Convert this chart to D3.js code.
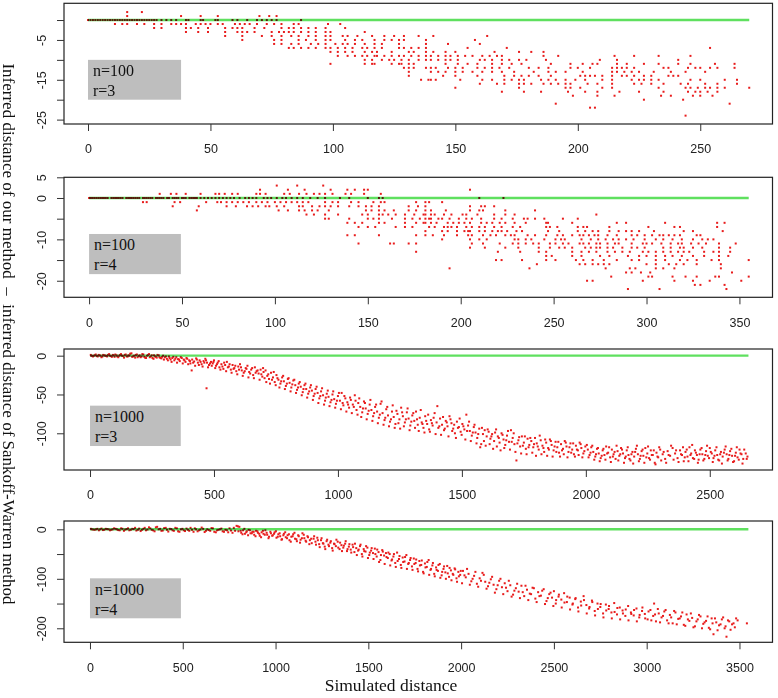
<!DOCTYPE html>
<html><head><meta charset="utf-8">
<script src="https://cdn.jsdelivr.net/npm/d3@7"></script>
<style>body{margin:0;background:#fff}svg{display:block}</style>
</head><body><svg id="chart" width="778" height="698"></svg>
<script>
// ---------- DATA ----------
// Panel 1 (n=100, r=3): rows of [y difference, [simulated distances]]
const p1Rows = [
 [2,[16,22]],
 [1,[16,38,46,53,70,74,77]],
 [0,[0,1,2,3,4,5,6,7,8,9,10,11,12,13,14,15,16,17,18,19,20,21,22,23,24,25,26,27,28,30,32,34,36,40,41,46,47,52,53,59,61,65,69,71,73,75,77,87]],
 [-1,[11,14,16,20,23,27,30,34,36,38,40,44,46,48,50,53,55,60,62,64,66,69,73,76,79,84,86,98,103]],
 [-2,[27,30,40,42,45,49,56,59,61,63,68,72,79,82,84,87,90,93,97,105]],
 [-3,[40,45,49,56,61,63,65,68,75,78,80,82,84,87,90,93,97,99,113]],
 [-4,[56,63,71,75,79,83,86,90,93,97,99,104,106,110,116,121,125,129,135,141,163]],
 [-5,[63,76,79,86,89,93,97,99,105,109,112,117,121,124,127,129,138,158]],
 [-6,[76,79,83,86,91,94,97,101,104,106,109,113,117,120,127,138,147,160]],
 [-7,[82,84,87,90,93,97,99,102,105,108,112,114,117,120,127,129,132,135,138,155,171,254]],
 [-8,[99,102,105,108,113,116,118,124,131,133,138,141,146,150,166,176,181,186]],
 [-9,[102,106,109,112,114,117,118,121,124,127,129,132,135,138,140,143,146,148,151,154,157,161,164,167,169,186,192,215,223,233,246]],
 [-10,[113,116,120,123,125,128,131,135,138,140,143,146,148,151,160,162,165,169,172,176,179,187,209,216,241]],
 [-11,[99,113,116,117,124,127,128,131,133,146,151,155,159,165,169,173,177,189,197,202,206,208,216,220,227,233,241,246,256,264]],
 [-12,[129,131,133,138,140,142,147,150,153,159,162,165,168,172,180,184,188,197,200,205,214,216,218,220,223,235,237,245,248,250,254,257,264]],
 [-13,[131,140,143,146,150,153,157,161,165,169,174,182,188,191,195,202,214,216,219,222,225,231,238,244,252]],
 [-14,[131,145,150,159,170,174,177,180,184,189,201,203,205,207,210,214,218,220,223,227,230,237,239,241]],
 [-15,[136,139,140,142,152,161,165,170,173,176,178,185,188,191,195,199,203,210,214,222,225,227,230,233,246,250,260,265]],
 [-16,[160,167,170,176,178,181,186,189,192,195,197,204,208,214,223,226,230,235,242,245,252,257,265]],
 [-17,[150,176,195,197,201,210,214,233,244,246,249,252,254,257,260,270]],
 [-18,[169,178,185,196,203,208,217,225,235,245,248,250,253,257]],
 [-19,[198,208,215,234,238,247,250,255]],
 [-20,[227,243]],
 [-21,[191,262]],
 [-22,[205,207]],
 [-24,[244]]
];
// Panel 2 (n=100, r=4)
const p2Rows = [
 [3,[101,112,126]],
 [2,[92,107,116,130,139,143,148,150,205]],
 [1,[38,44,47,52,60,68,70,73,77,80,90,92,95,105,108,113,117,121,124,127,131,138,141,148,157]],
 [0,[0,1,2,3,4,5,6,7,8,9,10,12,13,14,15,16,17,18,20,21,22,23,24,25,26,27,29,30,31,32,33,34,36,37,38,39,40,42,43,45,46,47,48,50,51,52,54,55,56,57,58,60,62,64,66,68,70,72,74,76,78,81,84,86,88,90,94,96,98,101,104,106,109,112,115,119,123,127,135,140,150,156,158,210,223]],
 [-1,[29,31,46,49,63,69,71,74,77,80,83,86,90,93,96,100,103,106,109,112,115,118,127,131,134,141,145,153,157,159,176,181,183,190]],
 [-2,[45,59,74,79,85,88,91,95,97,101,105,113,115,120,124,127,130,134,140,145,149,152,156,172,177,181,205,211,213,218]],
 [-3,[58,102,107,113,116,120,123,129,149,152,156,159,164,172,176,181,184,192,205,210,212,224,240]],
 [-4,[117,121,127,134,147,150,156,158,161,165,170,175,180,181,184,186,191,195,201,203,209,218,224,229,273]],
 [-5,[127,129,140,150,153,156,163,170,174,178,181,183,184,188,190,194,199,203,206,211,218,222,228,234,236,240,245,255,263]],
 [-6,[139,143,147,156,159,170,176,180,181,184,187,193,196,199,202,205,211,214,217,221,224,229,235,246,247,260,284,289,310,338,342]],
 [-7,[145,150,154,165,170,174,183,186,191,193,195,198,203,206,210,213,218,222,228,232,246,248,252,263,266,268,280,301,315,318,338]],
 [-8,[181,190,193,198,202,204,205,210,213,217,220,222,225,230,233,247,253,263,267,271,274,280,285,289,292,296,304,320,325,341]],
 [-9,[139,143,156,176,181,185,191,198,204,206,212,216,219,224,227,229,236,240,246,252,255,260,264,266,269,272,274,279,284,292,295,299,303,307,309,312,315,318,327,329]],
 [-10,[190,205,210,214,229,231,235,238,245,251,254,256,265,270,274,278,282,285,289,293,299,305,309,314,319,325,330,333,336]],
 [-11,[145,162,164,172,176,206,212,221,228,231,235,239,242,248,251,255,258,264,266,269,273,275,279,283,285,292,298,300,303,308,313,317,319,324,328,332,339,348]],
 [-12,[205,213,224,231,242,248,253,256,260,267,270,273,275,279,282,287,292,295,299,309,313,318,320,325,330,339,345]],
 [-13,[176,220,232,242,246,260,265,269,273,279,283,287,291,298,301,305,309,313,317,320,323,331,336,339,345]],
 [-14,[246,249,260,265,275,280,290,296,300,305,310,314,319,325,331,339,344]],
 [-15,[219,222,233,246,251,262,266,271,277,284,292,296,305,310,318,322,327,335,339,355]],
 [-16,[241,264,267,271,274,277,280,300,305,312,316,320,327,340]],
 [-17,[194,237,278,291,294,305,309,315,340]],
 [-18,[289,292,297,302,346]],
 [-19,[281,301,303,314,321,327,337,339,355]],
 [-20,[268,271,298,315,325,334,351]],
 [-21,[326,329,342]],
 [-22,[290,307,343]]
];
// Panel 3 (n=1000, r=3): [simulated distance, difference]
const p3PointsA = [
 [5,0],[12,-1],[20,0.5],[28,-0.5],[35,1],[42,0],[50,-1],[58,0.5],[65,-0.5],[72,1],[80,0],[88,-1.5],[95,0.5],[102,1.5],[110,-1],[118,0],[125,2],[132,-0.5],[140,1],[148,-1],[155,0.5],[162,2.5],[170,-1.5],[178,0],[185,1],[192,-2],[200,0.5],[208,-1],[215,1.5],[222,-2.5],[230,0],[238,2],[245,-1],[252,-3],[258,0.5],[265,-1.5],[272,1],[280,-2],[288,-3.5],[295,0],
 [302,-2],[310,-4],[318,-1],[325,-5],[332,-3],[340,-6],[348,-2],[355,-4.5],[362,-7],[370,-3],[378,-5],[385,-8],[392,-4],[400,-6],[405,-10],[410,-19],[412,-5],[420,-7.5],[428,-3.5],[435,-9],[442,-6],[450,-11],[458,-7],[465,-4],[470,-42],[472,-9],[480,-12],[488,-8],[495,-10],[500,-6],
 [508,-13],[515,-9],[522,-15],[530,-11],[538,-17],[545,-12],[552,-8],[560,-14],[568,-18],[575,-12],[582,-16],[590,-20],[598,-14],[605,-11],[612,-19],[620,-22],[628,-16],[635,-13],[642,-21],[650,-18],[658,-25],[665,-15],[672,-20],[680,-23],[688,-18],[695,-27],[700,-21],
 [708,-19],[715,-26],[722,-30],[730,-22],[738,-28],[745,-34],[752,-25],[760,-31],[768,-36],[775,-28],[782,-33],[790,-39],[798,-30],[805,-35],[812,-41],[820,-32],[828,-38],[835,-44],[842,-36],[850,-40],[858,-47],[865,-38],[872,-43],[880,-49],[888,-41],[895,-45],[902,-52],[910,-43],[918,-48],[925,-55],[932,-46],[940,-51],[948,-58],[955,-49],[962,-53],[970,-60],[978,-50],[985,-56],[992,-62],[1000,-52],
 [1008,-58],[1015,-48],[1022,-64],[1030,-55],[1038,-60],[1045,-67],[1052,-57],[1060,-63],[1068,-51],[1075,-70],[1082,-61],[1090,-66],[1098,-73],[1105,-59],[1112,-68],[1120,-75],[1128,-63],[1135,-70],[1142,-78],[1150,-66],[1158,-72],[1165,-80],[1172,-62],[1180,-74],[1188,-83],[1195,-69],[1202,-77],[1210,-85],[1218,-72],[1225,-79],[1232,-88],[1240,-75],[1248,-82],[1255,-67],[1262,-78],[1270,-86],[1278,-73],[1285,-81],[1292,-90],[1300,-77],
 [1308,-84],[1315,-72],[1322,-89],[1330,-80],[1338,-86],[1345,-93],[1352,-78],[1360,-88],[1368,-95],[1375,-83],[1382,-90],[1390,-74],[1398,-86],[1405,-93],[1412,-81],[1420,-89],[1428,-96],[1435,-84],[1442,-91],[1450,-78],[1458,-87],[1465,-94],[1472,-100],[1480,-85],[1488,-92],[1495,-98],[1502,-88],[1510,-95],[1518,-76],[1525,-90],[1532,-97],[1540,-103],[1548,-92],[1555,-99],[1562,-106],[1570,-94],[1578,-114],[1585,-101],[1592,-96],[1600,-104],
 [1608,-98],[1615,-107],[1622,-101],[1630,-110],[1638,-95],[1645,-104],[1652,-112],[1660,-100],[1668,-108],[1675,-115],[1682,-103],[1690,-111],[1698,-96],[1705,-106],[1712,-114],[1720,-135],[1728,-109],[1735,-117],[1742,-104],[1750,-112],[1758,-120],[1765,-107],[1772,-115],[1780,-110],[1788,-118],[1795,-106],[1802,-113],[1810,-121],[1818,-109],[1825,-116],[1832,-124],[1840,-112],[1848,-119],[1855,-108],[1862,-115],[1870,-122],[1878,-111],[1885,-118],[1892,-125],[1900,-114],[1908,-120],[1915,-110],[1922,-117],[1930,-124],[1938,-113],[1945,-121],[1952,-127],[1960,-116],[1968,-122],[1975,-112],[1982,-119],[1990,-126],[1998,-117],
 [2008,-121],[2015,-128],[2022,-118],[2030,-124],[2038,-130],[2045,-120],[2052,-126],[2060,-132],[2068,-122],[2075,-128],[2082,-117],[2090,-125],[2098,-131],[2105,-121],[2112,-127],[2120,-133],[2128,-123],[2135,-129],[2142,-119],[2150,-126],[2158,-132],[2165,-122],[2172,-128],[2180,-135],[2188,-124],[2195,-130],[2202,-120],[2210,-127],[2218,-133],[2225,-123],[2232,-129],[2240,-119],[2248,-126],[2255,-132],[2262,-122],[2270,-128],[2278,-138],[2285,-125],[2292,-131],[2300,-121],[2310,-127],[2320,-133],[2330,-123],[2340,-129],[2350,-119],[2360,-126],[2370,-132],[2380,-122],[2388,-128],[2395,-136],[2402,-124],[2410,-130],[2418,-118],[2425,-126],[2432,-132],[2440,-122],[2448,-128],[2455,-134],[2462,-121],[2470,-127],[2478,-133],[2485,-123],[2492,-129],[2500,-119],[2508,-126],[2515,-132],[2522,-122],[2530,-128],[2538,-135],[2545,-124],[2552,-130],[2560,-121],[2568,-127],[2575,-133],[2582,-123],[2590,-129],[2598,-136],[2605,-125],[2612,-131],[2620,-121],[2628,-127],[2635,-133],[2645,-126],[2652,-130]
];
const p3PointsB = [
 [3,1],[9,-0.5],[15,0],[23,1.5],[31,-1],[38,0.5],[46,-2],[53,1],[61,0],[69,-1],[77,2],[84,-0.5],[92,1],[99,-1.5],[107,0.5],[114,-2],[121,1],[129,0],[137,-2.5],[144,1.5],[152,-1],[159,0],[167,3],[174,-1],[182,-2.5],[189,1.5],[197,-0.5],[204,-2],[211,2],[219,-1.5],[226,-3],[234,1],[241,-2],[249,0.5],[256,-4],[263,-1],[269,-2.5],[277,0.5],[284,-3],[291,-1.5],[298,-5],
 [306,-1],[314,-6],[321,-3],[329,-8],[336,-1.5],[344,-4],[351,-9],[359,-5],[366,-2],[374,-10],[381,-6],[389,-3],[396,-11],[403,-7],[416,-9],[424,-13],[431,-5],[439,-12],[446,-8],[454,-14],[461,-9],[468,-6],[476,-15],[484,-10],[491,-13],[498,-8],
 [505,-16],[512,-11],[519,-7],[526,-18],[534,-14],[541,-9],[549,-20],[556,-15],[563,-11],[571,-22],[579,-17],[586,-13],[594,-24],[601,-18],[609,-15],[616,-26],[624,-20],[631,-17],[639,-28],[646,-23],[654,-16],[661,-29],[668,-22],[676,-19],[684,-31],[691,-24],[698,-16],
 [704,-29],[711,-34],[719,-24],[726,-36],[734,-31],[741,-21],[749,-38],[756,-29],[764,-41],[771,-33],[779,-26],[786,-43],[794,-36],[801,-29],[809,-46],[816,-37],[824,-31],[831,-48],[839,-41],[846,-34],[854,-51],[861,-43],[869,-36],[876,-54],[884,-46],[891,-38],[899,-57],[906,-49],[914,-40],[921,-61],[929,-52],[936,-42],[944,-63],[951,-54],[959,-45],[966,-65],[974,-57],[981,-46],[989,-67],[996,-58],
 [1004,-48],[1012,-69],[1019,-61],[1026,-52],[1034,-72],[1041,-63],[1049,-54],[1056,-74],[1064,-66],[1071,-58],[1079,-76],[1086,-55],[1094,-79],[1101,-68],[1109,-61],[1116,-82],[1124,-71],[1131,-57],[1139,-84],[1146,-74],[1154,-63],[1161,-87],[1169,-76],[1176,-59],[1184,-89],[1191,-80],[1199,-66],[1206,-91],[1214,-82],[1221,-64],[1229,-93],[1236,-71],[1244,-87],[1251,-94],[1259,-73],[1266,-91],[1274,-82],[1281,-68],[1289,-96],[1296,-85],
 [1304,-74],[1311,-93],[1319,-82],[1326,-97],[1334,-70],[1341,-88],[1349,-99],[1356,-84],[1364,-76],[1371,-98],[1379,-87],[1386,-80],[1394,-101],[1401,-65],[1409,-91],[1416,-102],[1424,-79],[1431,-94],[1439,-86],[1446,-104],[1454,-82],[1461,-97],[1469,-89],[1476,-106],[1484,-93],[1491,-81],[1499,-102],[1506,-91],[1514,-108],[1521,-97],[1529,-85],[1536,-110],[1544,-99],[1551,-89],[1559,-113],[1566,-101],[1574,-118],[1581,-93],[1589,-110],[1596,-116],
 [1604,-95],[1612,-114],[1619,-104],[1626,-120],[1634,-99],[1641,-117],[1649,-106],[1656,-122],[1664,-102],[1671,-119],[1679,-109],[1686,-97],[1694,-121],[1701,-111],[1709,-100],[1716,-124],[1724,-113],[1731,-105],[1739,-126],[1746,-116],[1754,-104],[1761,-127],[1769,-118],[1776,-106],[1784,-125],[1791,-114],[1799,-129],[1806,-117],[1814,-103],[1821,-127],[1829,-119],[1836,-108],[1844,-129],[1851,-121],[1859,-110],[1866,-130],[1874,-117],[1881,-124],[1889,-111],[1896,-130],[1904,-122],[1911,-127],[1919,-112],[1926,-131],[1934,-118],[1941,-125],[1949,-113],[1956,-130],[1964,-121],[1971,-128],[1979,-114],[1986,-131],[1994,-123],
 [2004,-115],[2011,-131],[2019,-125],[2026,-116],[2034,-134],[2041,-127],[2049,-119],[2056,-136],[2064,-129],[2071,-120],[2079,-134],[2086,-126],[2094,-118],[2101,-137],[2109,-130],[2116,-124],[2124,-116],[2131,-135],[2139,-127],[2146,-121],[2154,-138],[2161,-130],[2169,-118],[2176,-133],[2184,-127],[2191,-139],[2199,-124],[2206,-116],[2214,-136],[2221,-129],[2229,-121],[2236,-138],[2244,-131],[2251,-117],[2259,-134],[2266,-128],[2274,-122],[2281,-140],[2289,-130],[2296,-118],[2304,-135],[2314,-124],[2324,-138],[2334,-128],[2344,-116],[2354,-134],[2364,-122],[2374,-137],[2384,-127],[2392,-118],[2399,-131],[2407,-121],[2414,-136],[2422,-128],[2429,-115],[2437,-133],[2444,-125],[2452,-138],[2459,-127],[2467,-119],[2474,-135],[2482,-128],[2489,-116],[2497,-132],[2504,-124],[2512,-137],[2519,-129],[2527,-118],[2534,-134],[2542,-127],[2549,-139],[2557,-125],[2564,-117],[2572,-135],[2579,-128],[2587,-120],[2594,-137],[2602,-129],[2609,-118],[2617,-134],[2624,-126],[2632,-139],[2639,-121],[2649,-133]
];
// Panel 4 (n=1000, r=4)
const p4PointsA = [
 [10,0],[25,-1],[40,1],[55,0],[70,-1.5],[85,1],[100,0],[115,-1],[130,2],[145,0],[160,-2],[175,1],[190,-0.5],[205,2],[220,-1],[235,0.5],[250,-2.5],[265,1.5],[280,-1],[295,3],[310,-0.5],[325,2],[340,-2],[355,4],[370,0],[385,-3],[400,2.5],[415,-1],[430,1],[445,-2],[460,3],[475,-4],[490,0],[505,-2],[520,1.5],[535,-3],[550,-1],[565,2],[580,-4],[595,-0.5],[610,1],[625,-3],[640,-1.5],[655,2.5],[670,-5],[685,-2],[700,0],[715,-4],[730,-1],[745,-6],[760,-2.5],[775,3],[790,7],[800,-4],[805,5],
 [815,-7],[825,-2],[835,-9],[845,-4],[855,-1],[865,-8],[875,-5],[885,-11],[895,-3],[905,-7],[915,-13],[925,-6],[935,-9],[945,-2],[955,-11],[965,-15],[975,-8],[985,-12],[995,-6],[1005,-17],[1015,-10],[1025,-14],[1035,-20],[1045,-9],[1055,-16],[1065,-12],[1075,-22],[1085,-15],[1095,-10],[1105,-19],[1115,-24],[1125,-14],[1135,-21],[1145,-8],[1155,-18],[1165,-25],[1175,-16],[1185,-22],[1195,-28],[1205,-19],
 [1215,-25],[1225,-17],[1235,-30],[1245,-22],[1255,-28],[1265,-35],[1275,-24],[1285,-31],[1295,-27],[1305,-38],[1315,-29],[1325,-34],[1335,-25],[1345,-40],[1355,-32],[1365,-37],[1375,-29],[1385,-44],[1395,-35],[1405,-41],[1415,-31],[1425,-46],[1435,-38],[1445,-43],[1455,-34],[1465,-50],[1475,-40],[1485,-45],[1495,-37],[1505,-52],[1515,-43],[1525,-48],[1535,-39],[1545,-55],[1555,-46],[1565,-62],[1575,-42],[1585,-53],[1595,-48],
 [1605,-58],[1615,-50],[1625,-63],[1635,-55],[1645,-68],[1655,-47],[1665,-60],[1675,-72],[1685,-57],[1695,-65],[1705,-52],[1715,-70],[1725,-62],[1735,-75],[1745,-59],[1755,-68],[1765,-80],[1775,-64],[1785,-72],[1795,-86],[1805,-69],[1815,-76],[1825,-62],[1835,-82],[1845,-73],[1855,-90],[1865,-77],[1875,-84],[1885,-70],[1895,-93],[1905,-80],[1915,-87],[1925,-74],[1935,-96],[1945,-83],[1955,-90],[1965,-79],[1975,-99],[1985,-86],[1995,-92],
 [2010,-84],[2025,-97],[2040,-90],[2055,-105],[2070,-94],[2085,-110],[2100,-99],[2115,-88],[2130,-106],[2145,-115],[2160,-101],[2175,-112],[2190,-121],[2205,-104],[2220,-117],[2235,-109],[2250,-125],[2265,-113],[2280,-132],[2295,-119],[2310,-126],[2325,-114],[2340,-135],[2355,-122],[2370,-130],[2385,-118],[2400,-140],[2415,-127],[2430,-134],[2445,-121],[2460,-145],[2475,-131],[2490,-138],[2500,-125],[2510,-150],[2525,-136],[2540,-142],
 [2555,-129],[2570,-147],[2585,-138],[2600,-152],[2615,-141],[2630,-158],[2645,-146],[2660,-135],[2675,-153],[2690,-160],[2705,-144],[2720,-165],[2735,-150],[2750,-157],[2765,-170],[2780,-152],[2795,-161],[2810,-168],[2825,-149],[2840,-172],[2855,-158],[2870,-164],[2885,-175],[2900,-155],[2915,-168],[2930,-174],[2945,-160],[2960,-178],[2975,-165],[2990,-171],
 [3005,-182],[3020,-163],[3035,-175],[3040,-150],[3050,-186],[3065,-170],[3080,-178],[3095,-166],[3110,-184],[3125,-173],[3140,-190],[3155,-168],[3170,-181],[3185,-176],[3200,-193],[3215,-172],[3230,-185],[3245,-179],[3260,-196],[3275,-182],[3290,-176],[3305,-191],[3320,-185],[3335,-199],[3350,-180],[3360,-212],[3375,-188],[3390,-194],[3405,-182],[3420,-200],[3430,-217],[3445,-186],[3460,-192],[3475,-198],[3490,-184],[3540,-190]
];
const p4PointsB = [
 [5,1],[18,-0.5],[33,0],[48,-2],[62,1.5],[77,-1],[92,0.5],[108,-2],[122,0],[138,1],[152,-1.5],[168,2],[183,-3],[198,0.5],[212,-2],[228,1],[243,3],[258,-1],[273,-3.5],[288,1],[302,-2],[318,4],[333,-1],[348,-4],[362,5],[378,1],[392,-2.5],[408,3],[422,-4.5],[438,0.5],[452,-3],[468,2],[482,-5],[498,1],[512,-3.5],[528,-1],[542,3],[558,-5],[572,0],[588,-2],[602,3.5],[618,-5.5],[632,0],[648,-3],[662,2],[678,-6],[692,-1],[708,1.5],[722,-5],[738,-2],[752,2],[768,-7],[782,-3],[797,6],
 [812,-3],[822,-10],[832,1],[842,-6],[852,-12],[862,-2],[872,-8],[882,-5],[892,-14],[902,-4],[912,-9],[922,-16],[932,-3],[942,-11],[952,-7],[962,-18],[972,-5],[982,-13],[992,-9],
 [1002,-4],[1012,-15],[1022,-8],[1032,-21],[1042,-12],[1052,-6],[1062,-18],[1072,-10],[1082,-25],[1092,-14],[1102,-7],[1112,-20],[1122,-12],[1132,-27],[1142,-18],[1152,-11],[1162,-23],[1172,-14],[1182,-30],[1192,-19],
 [1208,-14],[1218,-31],[1228,-22],[1238,-36],[1248,-18],[1258,-29],[1268,-40],[1278,-21],[1288,-34],[1298,-24],[1308,-43],[1318,-30],[1328,-21],[1338,-37],[1348,-27],[1358,-44],[1368,-33],[1378,-24],[1388,-40],[1398,-30],
 [1408,-47],[1418,-36],[1428,-29],[1438,-52],[1448,-41],[1458,-31],[1468,-55],[1478,-44],[1488,-34],[1498,-58],[1508,-47],[1518,-38],[1528,-60],[1538,-50],[1548,-41],[1558,-66],[1568,-52],[1578,-45],[1588,-70],[1598,-56],
 [1608,-47],[1618,-73],[1628,-61],[1638,-50],[1648,-76],[1658,-64],[1668,-54],[1678,-78],[1688,-66],[1698,-56],[1708,-80],[1718,-68],[1728,-58],[1738,-82],[1748,-70],[1758,-61],[1768,-85],[1778,-73],[1788,-63],[1798,-89],
 [1808,-77],[1818,-66],[1828,-92],[1838,-80],[1848,-68],[1858,-95],[1868,-82],[1878,-72],[1888,-98],[1898,-86],[1908,-75],[1918,-100],[1928,-89],[1938,-78],[1948,-103],[1958,-92],[1968,-81],[1978,-106],[1988,-95],[1998,-84],
 [2005,-109],[2018,-93],[2032,-80],[2047,-112],[2062,-100],[2077,-86],[2092,-116],[2107,-104],[2122,-92],[2137,-120],[2152,-108],[2167,-96],[2182,-128],[2197,-113],[2212,-100],[2227,-131],[2242,-118],[2257,-104],[2272,-136],[2287,-124],
 [2302,-110],[2317,-139],[2332,-127],[2347,-114],[2362,-143],[2377,-131],[2392,-119],[2407,-147],[2422,-135],[2437,-124],[2452,-151],[2467,-139],[2482,-128],[2497,-155],[2512,-143],[2527,-132],[2542,-158],[2557,-148],[2572,-136],[2587,-162],
 [2602,-150],[2617,-139],[2632,-166],[2647,-154],[2662,-143],[2677,-170],[2692,-157],[2707,-147],[2722,-174],[2737,-161],[2752,-151],[2767,-178],[2782,-164],[2797,-155],[2812,-180],[2827,-167],[2842,-159],[2857,-182],[2872,-170],[2887,-162],[2902,-184],[2917,-171],[2932,-163],[2947,-186],[2962,-173],[2977,-158],[2992,-180],
 [3010,-166],[3025,-184],[3045,-172],[3060,-161],[3072,-188],[3088,-175],[3102,-163],[3118,-190],[3132,-178],[3148,-165],[3162,-192],[3178,-180],[3192,-168],[3208,-195],[3222,-182],[3238,-170],[3252,-198],[3268,-186],[3282,-173],[3298,-200],[3312,-188],[3328,-176],[3342,-202],[3355,-190],[3368,-180],[3382,-204],[3398,-192],[3412,-178],[3425,-196],[3438,-184],[3452,-203],[3468,-190],[3482,-180]
];
const xTicks1 = [0,50,100,150,200,250];
const xTicks2 = [0,50,100,150,200,250,300,350];
const xTicks3 = [0,500,1000,1500,2000,2500];
const xTicks4 = [0,500,1000,1500,2000,2500,3000,3500];
const yTicks1 = [0,-5,-10,-15,-20,-25], yLabels1 = [-5,-15,-25];
const yTicks2 = [5,0,-5,-10,-15,-20], yLabels2 = [5,0,-10,-20];
const yTicks3 = [0,-50,-100], yLabels3 = [0,-50,-100];
const yTicks4 = [0,-50,-100,-150,-200], yLabels4 = [0,-100,-200];
const legends = [["n=100","r=3"],["n=100","r=4"],["n=1000","r=3"],["n=1000","r=4"]];
const xTitle = "Simulated distance";
const yTitle = "Inferred distance of our method  \u2013  inferred distance of Sankoff-Warren method";

// ---------- LAYOUT ----------
const rowsToPts = rows => rows.flatMap(([y, xs]) => xs.map(x => [x, y]));
const L = 64, R = 772.5;
const panels = [
 {pts: rowsToPts(p1Rows), top: 3.3, bottom: 124, xd: [-9.8, 279.5], yd: [-26.1, 4.2], xt: xTicks1, yt: yTicks1, yl: yLabels1, gEnd: 270, lx: [0, 38], ly: [-10, -20], leg: legends[0]},
 {pts: rowsToPts(p2Rows), top: 177.3, bottom: 297.3, xd: [-13.5, 367.8], yd: [-24, 5], xt: xTicks2, yt: yTicks2, yl: yLabels2, gEnd: 355, lx: [0, 49.4], ly: [-8.7, -18.4], leg: legends[1]},
 {pts: p3PointsA.concat(p3PointsB), top: 349, bottom: 470, xd: [-105, 2753], yd: [-147.3, 8.6], xt: xTicks3, yt: yTicks3, yl: yLabels3, gEnd: 2656, lx: [0, 366], ly: [-64.4, -116.4], leg: legends[2]},
 {pts: p4PointsA.concat(p4PointsB), top: 521, bottom: 642.3, xd: [-140, 3678], yd: [-228.3, 16.8], xt: xTicks4, yt: yTicks4, yl: yLabels4, gEnd: 3548, lx: [0, 490], ly: [-99, -179.8], leg: legends[3]}
];

const svg = d3.select("#chart");
const serif = "'Liberation Serif','Times New Roman',serif";
const sans = "'Liberation Sans',Arial,Helvetica,sans-serif";

panels.forEach(p => {
  const x = d3.scaleLinear().domain(p.xd).range([L, R]);
  const y = d3.scaleLinear().domain(p.yd).range([p.bottom, p.top]);
  const g = svg.append("g");

  g.append("line")
    .attr("x1", x(0)).attr("x2", x(p.gEnd)).attr("y1", y(0)).attr("y2", y(0))
    .attr("stroke", "#5fe05f").attr("stroke-width", 2.4);

  g.append("g").style("mix-blend-mode", "multiply")
    .selectAll("rect").data(p.pts).join("rect")
    .attr("x", d => x(d[0]) - 1).attr("y", d => y(d[1]) - 1)
    .attr("width", 2).attr("height", 2).attr("fill", "#e81c1c");

  g.append("rect")
    .attr("x", x(p.lx[0])).attr("y", y(p.ly[0]))
    .attr("width", x(p.lx[1]) - x(p.lx[0])).attr("height", y(p.ly[1]) - y(p.ly[0]))
    .attr("fill", "#bebebe");
  const ty = y(p.ly[0]);
  g.selectAll("text.leg").data(p.leg).join("text").attr("class", "leg")
    .attr("x", x(p.lx[0]) + 5).attr("y", (d, i) => ty + 16.5 + i * 20)
    .attr("font-family", serif).attr("font-size", 16).attr("fill", "#111")
    .text(d => d);

  g.append("rect").attr("x", L).attr("y", p.top).attr("width", R - L).attr("height", p.bottom - p.top)
    .attr("fill", "none").attr("stroke", "#222").attr("stroke-width", 1.2);

  const xa = d3.axisBottom(x).tickValues(p.xt).tickSize(7).tickFormat(d3.format("d")).tickSizeOuter(0);
  const gx = g.append("g").attr("transform", `translate(0,${p.bottom})`).call(xa);
  gx.select(".domain").remove();
  gx.selectAll("line").attr("stroke", "#333");
  gx.selectAll("text").attr("font-family", sans).attr("font-size", 12.5).attr("fill", "#222")
    .attr("dy", "0.71em").attr("y", 20.5);

  const ya = d3.axisLeft(y).tickValues(p.yt).tickSize(7).tickFormat(d => p.yl.includes(d) ? String(d) : "").tickSizeOuter(0);
  const gy = g.append("g").attr("transform", `translate(${L},0)`).call(ya);
  gy.select(".domain").remove();
  gy.selectAll("line").attr("stroke", "#333");
  gy.selectAll("text").attr("font-family", sans).attr("font-size", 12.5).attr("fill", "#222")
    .attr("x", null).attr("dy", null).attr("text-anchor", "middle")
    .attr("transform", "translate(-18,0) rotate(-90)");
});

svg.append("text").attr("x", 391).attr("y", 691).attr("text-anchor", "middle")
  .attr("font-family", serif).attr("font-size", 17.5).attr("fill", "#111").text(xTitle);
svg.append("text").attr("transform", "translate(3,334) rotate(90)").attr("text-anchor", "middle")
  .attr("font-family", serif).attr("font-size", 17).attr("fill", "#111")
  .style("white-space", "pre").text(yTitle);
</script></body></html>
